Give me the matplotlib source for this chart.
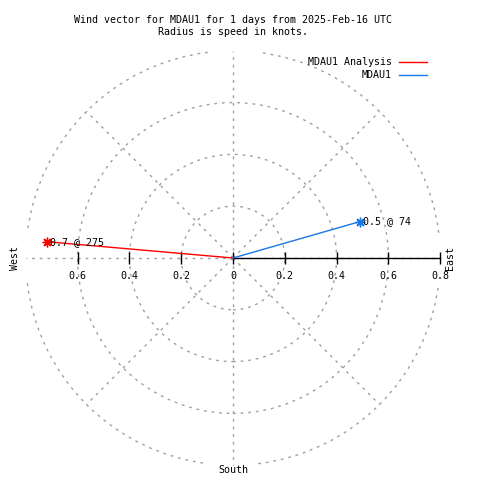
import matplotlib
matplotlib.use("Agg")
import matplotlib.pyplot as plt
import matplotlib.patches as patches
import numpy as np

# wind data (speed in knots, compass direction in degrees)
names = ["MDAU1 Analysis", "MDAU1"]
speeds = [0.72, 0.51]
directions = [275, 74]
colors = ["#ff0000", "#1a78e6"]

rings = [0.2, 0.4, 0.6, 0.8]
spokes = [0, 45, 90, 135, 180, 225, 270, 315]
tick_vals = [-0.6, -0.4, -0.2, 0, 0.2, 0.4, 0.6, 0.8]
tick_labels = ["0.6", "0.4", "0.2", "0", "0.2", "0.4", "0.6", "0.8"]

title = "Wind vector for MDAU1 for 1 days from 2025-Feb-16 UTC\nRadius is speed in knots."

plt.rcParams['font.family'] = ['DejaVu Sans Mono']
fs = 7.2
grid_kw = dict(color='#a0a0a0', lw=1, ls=(0, (2, 3.5)))

fig = plt.figure(figsize=(4.8, 4.8), dpi=100)
ax = fig.add_axes([0, 0, 1, 1])
scale = 259.0
ax.set_xlim(-233 / scale, 247 / scale)
ax.set_ylim(-222 / scale, 258 / scale)
ax.axis('off')

# grid rings, outer one broken at the cardinal points
for r in rings[:-1]:
    ax.add_patch(patches.Circle((0, 0), r, fill=False, **grid_kw))
for start in [7, 97, 187, 277]:
    ax.add_patch(patches.Arc((0, 0), 2 * rings[-1], 2 * rings[-1],
                             theta1=start, theta2=start + 76, **grid_kw))

# spokes
for a in spokes:
    t = np.radians(a)
    ax.plot([0, rings[-1] * np.sin(t)], [0, rings[-1] * np.cos(t)], **grid_kw)

# radial axis
ax.plot([0, 0.8], [0, 0], color='k', lw=1)
ax.plot(tick_vals, np.zeros(len(tick_vals)), ls='none', marker='|',
        ms=9, color='k', mew=1)
for v, lab in zip(tick_vals, tick_labels):
    ax.text(v, -0.07, lab, ha='center', va='center', fontsize=fs)

# wind vectors
for name, s, d, c in zip(names, speeds, directions, colors):
    t = np.radians(d)
    x, y = s * np.sin(t), s * np.cos(t)
    ax.plot([0, x], [0, y], color=c, lw=1, label=name)
    ax.plot(x, y, ls='none', marker=(8, 2, 0), ms=7, color=c, mew=1)
    ax.text(x + 0.01, y, "%.1f @ %d" % (s, d), ha='left', va='center', fontsize=fs)

# cardinal labels
ax.text(-0.843, 0, "West", rotation=90, ha='center', va='center', fontsize=fs)
ax.text(0.838, 0, "East", rotation=90, ha='center', va='center', fontsize=fs)
ax.text(0, -0.82, "South", ha='center', va='center', fontsize=fs)

fig.text(233 / 480, 1 - 15 / 480, title, ha='center', va='top',
         fontsize=fs, linespacing=1.3)

ax.legend(loc='upper right', bbox_to_anchor=(427 / 480, 1 - 57 / 480),
          frameon=False, markerfirst=False, fontsize=fs, handlelength=2.8,
          handletextpad=0.7, labelspacing=0.3, borderpad=0, borderaxespad=0)

fig.savefig("out.png", dpi=100)
